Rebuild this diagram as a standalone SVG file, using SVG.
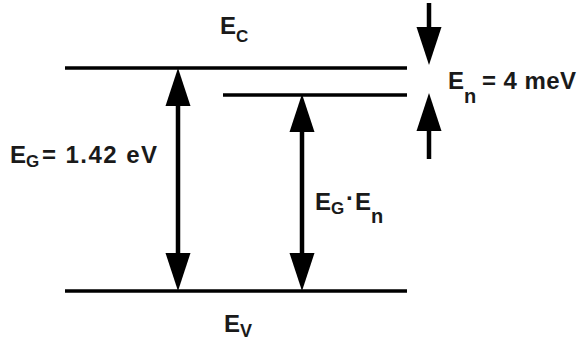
<svg xmlns="http://www.w3.org/2000/svg" width="577" height="345" viewBox="0 0 577 345">
<style>
.lvl{stroke:#000;stroke-width:3.5;fill:none}
.arr{stroke:#000;stroke-width:4.5;fill:none;marker-end:url(#head)}
.dbl{marker-start:url(#head)}
text{font-family:"Liberation Sans",Arial,sans-serif;font-weight:bold;fill:#1a1a1a;font-size:24px}
.sub{font-size:17px}
</style>
<defs>
<marker id="head" markerUnits="userSpaceOnUse" markerWidth="40" markerHeight="26" refX="8" refY="12.5" orient="auto-start-reverse" overflow="visible">
<path d="M0,0 L38,12.5 L0,25 Z" fill="#000"/>
</marker>
</defs>
<rect width="577" height="345" fill="#fff"/>
<g id="level-ec">
<line class="lvl" x1="65" y1="68" x2="407" y2="68"/>
<text x="220" y="34">E<tspan class="sub" x="236" y="42">C</tspan></text>
</g>
<g id="level-en">
<line class="lvl" x1="223" y1="95" x2="407" y2="95"/>
</g>
<g id="level-ev">
<line class="lvl" x1="65" y1="291" x2="407" y2="291"/>
<text x="224" y="332">E<tspan class="sub" x="240" y="337" style="font-size:18px">V</tspan></text>
</g>
<g id="connectors">
<line class="arr dbl" x1="178" y1="98" x2="178" y2="261"/>
<line class="arr dbl" x1="302" y1="124" x2="302" y2="261"/>
<line class="arr" x1="429" y1="3" x2="429" y2="35"/>
<line class="arr" x1="429" y1="159" x2="429" y2="123"/>
</g>
<g id="label-eg">
<text x="10" y="163">E<tspan class="sub" x="26" y="167">G</tspan><tspan x="42" y="163" textLength="115" lengthAdjust="spacing">= 1.42 eV</tspan></text>
</g>
<g id="label-eg-en">
<text x="315" y="210">E<tspan class="sub" x="331" y="214">G</tspan><tspan x="346" y="206">·</tspan><tspan x="355" y="210">E</tspan><tspan class="sub" x="371" y="223" style="font-size:20px">n</tspan></text>
</g>
<g id="label-en">
<text x="448" y="89">E<tspan class="sub" x="464" y="103" style="font-size:20px">n</tspan><tspan x="482" y="89" textLength="94" lengthAdjust="spacing">= 4 meV</tspan></text>
</g>
</svg>
